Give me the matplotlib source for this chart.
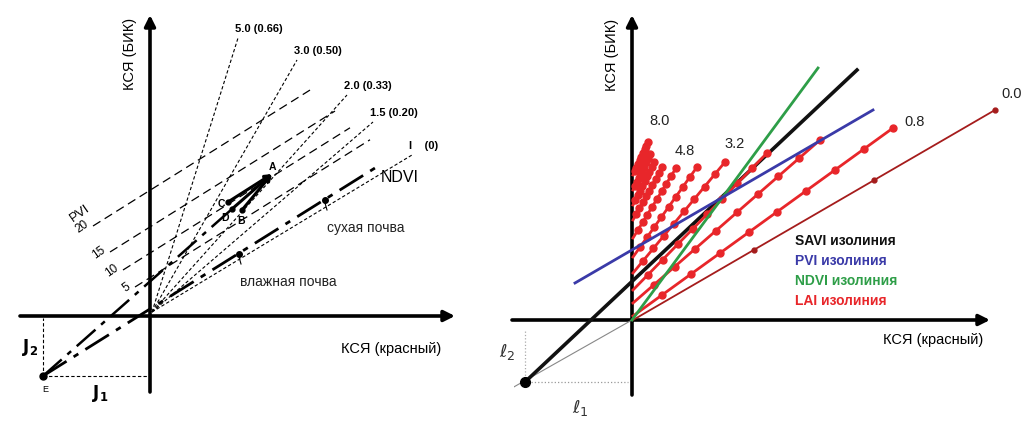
import numpy as np
import matplotlib
matplotlib.use("Agg")
import matplotlib.pyplot as plt

plt.rcParams['font.family'] = ['Liberation Sans', 'DejaVu Sans']

# ---------------- LEFT PANEL DATA (schematic units, origin at axes crossing) ----------------
soil_E = (-107, -60)
soil_end = (225, 148)
upper_end = (82, 107)
soil_points_x = [89, 175]
soil_points_y = [62, 116]
soil_labels = ["влажная почва", "сухая почва"]

ndvi_labels = ["5.0 (0.66)", "3.0 (0.50)", "2.0 (0.33)", "1.5 (0.20)", "I    (0)"]
ndvi_end_x = [88, 147, 197, 223, 262]
ndvi_end_y = [278, 256, 221, 194, 161]

pvi_labels = ["20", "15", "10", "5"]
pvi_start_x = [-57, -40, -27, -15]
pvi_start_y = [90, 64, 46, 29]
pvi_end_x = [160, 185, 200, 220]

pt_A = (122, 142)
pts_CDB_names = ["C", "D", "B"]
pts_CDB_x = [78, 82, 92]
pts_CDB_y = [114, 107, 106]

# ---------------- RIGHT PANEL DATA ----------------
savi_start = (-107, -62)
savi_end = (225, 250)
ndvi_line_end = (186, 252)
pvi_line = [(-57, 37), (241, 210)]

lai_values = ["0.0", "0.8", "1.6", "2.4", "3.2", "4.0", "4.8", "5.6", "6.4", "7.2", "8.0"]
lai_start_y = [0, 4, 17, 30, 47, 63, 82, 100, 115, 130, 145]
lai_end_x = [363, 261, 188, 135, 93, 65, 44, 30, 22, 18, 16]
lai_end_y = [210, 192, 180, 167, 158, 153, 152, 153, 158, 166, 178]
lai_intervals = [3, 9, 9, 9, 9, 9, 9, 9, 9, 9, 9]
lai_labelled = ["0.0", "0.8", "3.2", "4.8", "8.0"]

legend_names = ["SAVI изолиния", "PVI изолиния", "NDVI изолиния", "LAI изолиния"]
legend_colors = ["#111111", "#3a3aa8", "#2e9e48", "#e8262a"]

RED = "#e8262a"
DARKRED = "#a51c1c"
GREEN = "#2e9e48"
BLUE = "#3a3aa8"

W, H = 1029, 428
fig = plt.figure(figsize=(W / 100, H / 100), dpi=100)

axL = fig.add_axes([0, 0, 514 / W, 1])
axL.set_xlim(-150, 364)
axL.set_ylim(-112, 316)
axR = fig.add_axes([514 / W, 0, 515 / W, 1])
axR.set_xlim(-118, 397)
axR.set_ylim(-108, 320)
for ax in (axL, axR):
    ax.axis('off')


def arrow_axis(ax, start, end):
    ax.annotate('', xy=end, xytext=start,
                arrowprops=dict(arrowstyle='-|>', lw=2.6, color='k',
                                mutation_scale=16, shrinkA=0, shrinkB=0),
                zorder=2)

# ================= LEFT =================
arrow_axis(axL, (0, -76), (0, 301))
arrow_axis(axL, (-130, 0), (305, 0))

# NDVI fan lines
for lab, ex, ey in zip(ndvi_labels, ndvi_end_x, ndvi_end_y):
    axL.plot([2, ex], [4, ey], color='k', lw=0.8, dashes=(3, 2), zorder=3)
    axL.text(ex - 3, ey + 4, lab, fontsize=8, ha='left', va='bottom', fontweight='bold')

# PVI lines
slope = (soil_end[1] - soil_E[1]) / (soil_end[0] - soil_E[0])
for lab, sx, sy, ex in zip(pvi_labels, pvi_start_x, pvi_start_y, pvi_end_x):
    ey = sy + slope * (ex - sx)
    axL.plot([sx, ex], [sy, ey], color='k', lw=0.9, dashes=(7, 4), zorder=3)
    axL.text(sx - 2, sy - 1, lab, fontsize=8.5, rotation=35, ha='right', va='center')
axL.text(-70, 103, "PVI", fontsize=9.5, rotation=35, ha='center', va='center')

# soil line (dash-dot)
axL.plot([soil_E[0], soil_end[0]], [soil_E[1], soil_end[1]], color='k', lw=2.0,
         dashes=(10, 3, 2, 3), zorder=4)
axL.plot([soil_E[0], upper_end[0]], [soil_E[1], upper_end[1]], color='k', lw=1.8,
         dashes=(10, 3, 2, 3), zorder=4)

# soil points
axL.plot(soil_points_x, soil_points_y, 'o', color='k', ms=4, zorder=5)
for x, y in zip(soil_points_x, soil_points_y):
    axL.plot([x, x + 2], [y - 3, y - 10], color='k', lw=0.8)
axL.text(138, 34, soil_labels[0], fontsize=10, ha='center', va='center', color='#222222')
axL.text(216, 88, soil_labels[1], fontsize=10, ha='center', va='center', color='#222222')
axL.text(250, 139, "NDVI", fontsize=11.5, ha='center', va='center')

# A -> C, D, B
for n, x, y in zip(pts_CDB_names, pts_CDB_x, pts_CDB_y):
    axL.annotate('', xy=pt_A, xytext=(x, y),
                 arrowprops=dict(arrowstyle='-|>', lw=2.2, color='k', mutation_scale=9,
                                 shrinkA=0, shrinkB=0), zorder=6)
    axL.plot([x], [y], 'o', color='k', ms=3.5, zorder=6)
axL.text(pt_A[0], pt_A[1] + 7, "A", fontsize=7.5, ha='center', va='center', fontweight='bold')
axL.text(71, 112, "C", fontsize=7.5, ha='center', va='center', fontweight='bold')
axL.text(75, 98, "D", fontsize=7.5, ha='center', va='center', fontweight='bold')
axL.text(91, 95, "B", fontsize=7.5, ha='center', va='center', fontweight='bold')

# E projections
axL.plot([soil_E[0], soil_E[0]], [soil_E[1], -2], color='k', lw=0.8, dashes=(3, 2))
axL.plot([soil_E[0], -2], [soil_E[1], soil_E[1]], color='k', lw=0.8, dashes=(3, 2))
axL.plot([soil_E[0]], [soil_E[1]], 'o', color='k', ms=5, zorder=6)
axL.text(-105, -73, "E", fontsize=6.5, ha='center', va='center')
axL.text(-120, -32, r"$\mathbf{J_2}$", fontsize=12, ha='center', va='center')
axL.text(-50, -77, r"$\mathbf{J_1}$", fontsize=12, ha='center', va='center')

axL.text(-20, 262, "КСЯ (БИК)", fontsize=10.5, rotation=90, ha='center', va='center')
axL.text(241, -33, "КСЯ (красный)", fontsize=10.5, ha='center', va='center')

# ================= RIGHT =================
arrow_axis(axR, (0, -75), (0, 305))
arrow_axis(axR, (-120, 0), (358, 0))

# thin soil line and projections
axR.plot([-120, 0], [-68, 0], color='#888888', lw=0.8)
axR.plot([savi_start[0], savi_start[0]], [savi_start[1], -10], color='#aaaaaa', lw=0.9, ls=':')
axR.plot([savi_start[0] + 6, -4], [savi_start[1], savi_start[1]], color='#999999', lw=0.9, ls=':')

# SAVI (black)
axR.plot([savi_start[0], savi_end[0]], [savi_start[1], savi_end[1]], color='#111111', lw=2.6, zorder=3)
axR.plot([savi_start[0]], [savi_start[1]], 'o', color='k', ms=7, zorder=6)

# LAI lines
for val, sy, ex, ey, n in zip(lai_values, lai_start_y, lai_end_x, lai_end_y, lai_intervals):
    col = DARKRED if val == "0.0" else RED
    lw = 1.3 if val == "0.0" else 2.0
    xs = np.linspace(1, ex, n + 1)
    ys = np.linspace(sy, ey, n + 1)
    ms = 3.5 if val == "0.0" else 5
    axR.plot(xs, ys, color=col, lw=lw, zorder=4)
    axR.plot(xs[1:], ys[1:], 'o', color=col, ms=ms, zorder=4)

# green / blue
axR.plot([0, ndvi_line_end[0]], [0, ndvi_line_end[1]], color=GREEN, lw=2.0, zorder=5)
axR.plot([p[0] for p in pvi_line], [p[1] for p in pvi_line], color=BLUE, lw=2.0, zorder=5)

# LAI labels
lab_pos = {"0.0": (380, 226), "0.8": (283, 198), "3.2": (103, 176), "4.8": (53, 169), "8.0": (28, 199)}
for v in lai_labelled:
    x, y = lab_pos[v]
    axR.text(x, y, v, fontsize=10.5, ha='center', va='center', color='#222222')

# legend text
for i, (name, c) in enumerate(zip(legend_names, legend_colors)):
    axR.text(163, 79 - 20 * i, name, fontsize=10, fontweight='bold', color=c,
             ha='left', va='center')

axR.text(-125, -32, r"$\ell_2$", fontsize=13, ha='center', va='center', color='#333333')
axR.text(-52, -88, r"$\ell_1$", fontsize=13, ha='center', va='center', color='#333333')

axR.text(-20, 265, "КСЯ (БИК)", fontsize=10.5, rotation=90, ha='center', va='center')
axR.text(301, -20, "КСЯ (красный)", fontsize=10.5, ha='center', va='center')

fig.savefig("out.png", dpi=100)
